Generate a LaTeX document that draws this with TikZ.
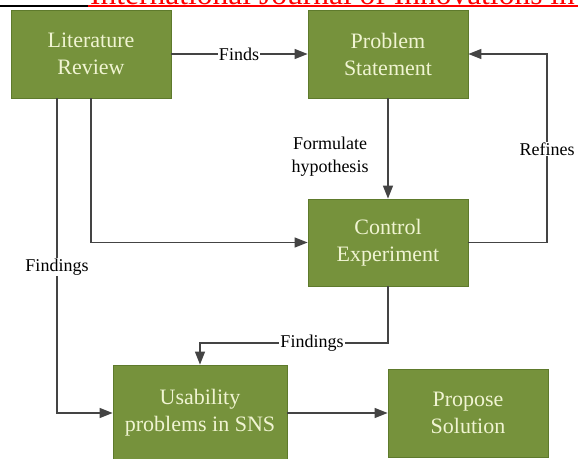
\documentclass[tikz,border=0pt]{standalone}
\usepackage{fontspec}
\setmainfont{LiberationSerif}[Extension=.ttf, UprightFont=*-Regular, ItalicFont=*-Italic, BoldFont=*-Bold]
\usetikzlibrary{arrows.meta}
\definecolor{boxfill}{HTML}{76923C}
\definecolor{boxedge}{HTML}{5E7A2C}
\definecolor{boxtext}{HTML}{F0F4D2}
\definecolor{linecol}{HTML}{444444}
\begin{document}
\begin{tikzpicture}[x=1pt,y=-1pt,
  box/.style={draw=boxedge, line width=0.8pt, fill=boxfill, text=boxtext, align=center,
    inner sep=0pt, font=\fontsize{22}{27}\selectfont},
  conn/.style={draw=linecol, line width=1.4pt, -{Triangle[length=13pt,width=10pt]}},
  lab/.style={fill=white, inner sep=1pt, text=black, align=center, font=\fontsize{18}{23}\selectfont}]
\useasboundingbox (0,0) rectangle (578,458);
\clip (0,0) rectangle (578,458);
% header
\draw[black, line width=2pt] (0,6) -- (88,6);
\draw[red, line width=2pt] (88,6) -- (578,6);
\node[anchor=base west, text=red, inner sep=0pt, font=\fontsize{31.5}{32}\selectfont] (hdr) at (90,4) {International Journal of Innovations in};
% boxes
\node[box, minimum width=160pt, minimum height=88pt] (lit) at (91,54) {Literature\\Review};
\node[box, minimum width=160pt, minimum height=88pt] (prob) at (388,54) {Problem\\Statement};
\node[box, minimum width=160pt, minimum height=87pt] (ctrl) at (388,242.5) {Control\\Experiment};
\node[box, minimum width=174pt, minimum height=96pt] (use) at (200,413) {Usability\\problems in SNS};
\node[box, minimum width=160pt, minimum height=88pt] (prop) at (468,413) {Propose\\Solution};
% connectors
\draw[conn] (lit.east) -- (prob.west);
\node[lab] (finds) at (239,54) {Finds};
\draw[conn] (prob.south) -- (ctrl.north);
\node[lab, fill=none] (form) at (330,157) {Formulate\\hypothesis};
\coordinate (rc) at (547,149);
\draw[conn] (ctrl.east) -| (rc) |- (prob.east);
\node[lab] (ref) at (rc) {Refines};
\draw[conn] (lit.south) |- (ctrl.west);
\coordinate (l1) at (57,267);
\draw[conn] (l1 |- lit.south) -- (l1) |- (use.west);
\node[lab] (find1) at (l1) {Findings};
\coordinate (f2) at (312,343);
\draw[conn] (ctrl.south) |- (use.north |- f2) -- (use.north);
\node[lab] (find2) at (f2) {Findings};
\draw[conn] (use.east) -- (prop.west);
\end{tikzpicture}
\end{document}
